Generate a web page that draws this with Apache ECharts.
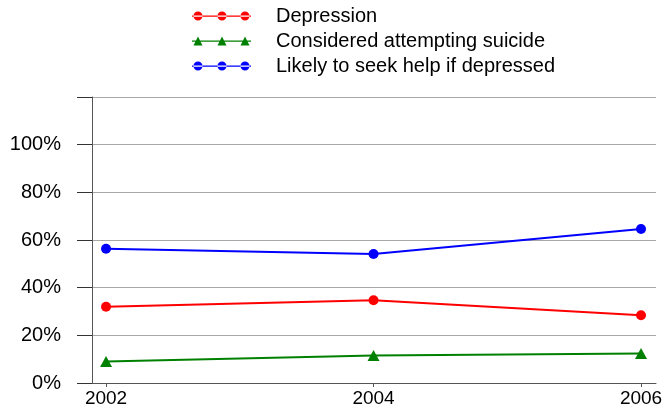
<!DOCTYPE html>
<html>
<head>
<meta charset="utf-8">
<script src="https://cdn.jsdelivr.net/npm/echarts@6/dist/echarts.min.js"></script>
<style>
  html, body { margin: 0; padding: 0; background: #fff; }
  #chart { width: 663px; height: 414px; }
</style>
</head>
<body>
<div id="chart"></div>
<script>
const years = [2002, 2004, 2006];
const depression = [32, 34.7, 28.4];
const suicide = [9, 11.5, 12.4];
const seekHelp = [56.3, 54.1, 64.6];
const seriesNames = ["Depression", "Considered attempting suicide", "Likely to seek help if depressed"];

// legend icons: a line with three markers
const dotIcon = "path://M0,4h59v1.2H0z M1.5,4.5a4.5,4.5 0 1,0 9,0a4.5,4.5 0 1,0 -9,0z M25.5,4.5a4.5,4.5 0 1,0 9,0a4.5,4.5 0 1,0 -9,0z M48.5,4.5a4.5,4.5 0 1,0 9,0a4.5,4.5 0 1,0 -9,0z";
const triIcon = "path://M0,4h59v1.2H0z M6,0L10.5,9H1.5z M30,0L34.5,9H25.5z M53,0L57.5,9H48.5z";

const font = "'Liberation Sans', Arial, sans-serif";

const pairs = (vals) => years.map((y, i) => [y, vals[i]]);

const chart = echarts.init(document.getElementById("chart"), null, { renderer: "canvas" });

const option = {
  animation: false,
  backgroundColor: "#fff",
  legend: {
    orient: "vertical",
    left: 187,
    top: 1,
    itemWidth: 59,
    itemHeight: 9,
    itemGap: 5,
    textStyle: { fontFamily: font, fontSize: 20, color: "#000", padding: [0, 0, 0, 20], lineHeight: 18 },
    data: [
      { name: seriesNames[0], icon: dotIcon },
      { name: seriesNames[1], icon: triIcon },
      { name: seriesNames[2], icon: dotIcon }
    ]
  },
  grid: { left: 92, right: 7, top: 97, bottom: 31, containLabel: false, outerBoundsMode: "none" },
  xAxis: {
    type: "value",
    min: 2001.895,
    max: 2006.112,
    offset: 3,
    axisLine: { show: true, lineStyle: { color: "#555", width: 1 } },
    axisTick: { show: true, length: 4, lineStyle: { color: "#555" }, customValues: years },
    axisLabel: {
      customValues: years,
      fontFamily: font, fontSize: 19, color: "#000", margin: 3,
      formatter: (v) => String(v)
    },
    splitLine: { show: false }
  },
  yAxis: {
    type: "value",
    min: 0,
    max: 120,
    interval: 20,
    axisLine: { show: true, lineStyle: { color: "#555", width: 1 } },
    axisTick: { show: true, length: 15, lineStyle: { color: "#333" } },
    axisLabel: {
      fontFamily: font, fontSize: 20, color: "#000", margin: 31,
      formatter: (v) => (v >= 120 ? "" : v + "%")
    },
    splitLine: { show: true, lineStyle: { color: "#a8a8a8", width: 1.2 } }
  },
  series: [
    {
      name: seriesNames[0], type: "line", data: pairs(depression),
      symbol: "circle", symbolSize: 10,
      lineStyle: { color: "#ff0000", width: 2 },
      itemStyle: { color: "#ff0000" }
    },
    {
      name: seriesNames[1], type: "line", data: pairs(suicide),
      symbol: "triangle", symbolSize: [12, 11],
      lineStyle: { color: "#008000", width: 2 },
      itemStyle: { color: "#008000" }
    },
    {
      name: seriesNames[2], type: "line", data: pairs(seekHelp),
      symbol: "circle", symbolSize: 10,
      lineStyle: { color: "#0000ff", width: 2 },
      itemStyle: { color: "#0000ff" }
    }
  ]
};

chart.setOption(option);
window.onresize = function () { chart.resize(); };
</script>
</body>
</html>
